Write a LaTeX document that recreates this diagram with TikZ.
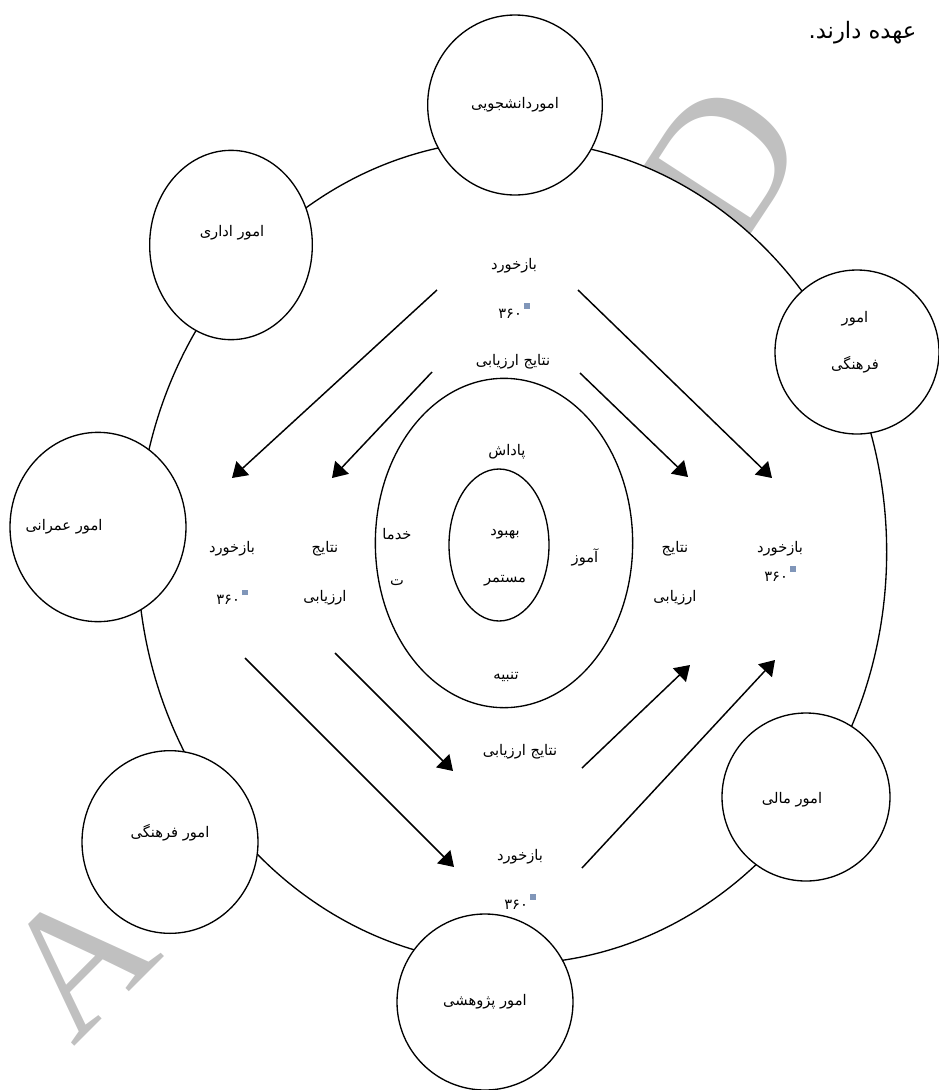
\documentclass[tikz,border=0pt]{standalone}
\usepackage{fontspec}
\setmainfont{DejaVu Sans}
\newfontfamily\farsi[Script=Arabic]{DejaVu Sans}
\newfontfamily\wmfont{Liberation Serif}
\TeXXeTstate=1
\usetikzlibrary{shapes, arrows.meta, positioning}
\definecolor{wmgray}{RGB}{192,192,192}
\definecolor{iconc}{RGB}{128,150,185}
\newcommand{\fatxt}[1]{\beginR #1\endR}
\newcommand{\iconsq}{\,\textcolor{iconc}{\rule[7pt]{4pt}{4pt}}}

\begin{document}
\begin{tikzpicture}[x=0.75pt, y=-0.75pt, font=\farsi\fontsize{11}{13}\selectfont]
    \tikzstyle{unit} = [ellipse, draw, fill=white, line width=1pt, inner sep=0pt]
    \tikzstyle{ring} = [ellipse, draw, line width=1pt, inner sep=0pt]
    \tikzstyle{lbl} = [align=center, inner sep=1pt]
    \tikzstyle{wm} = [text=wmgray, font=\wmfont\fontsize{135}{135}\selectfont, inner sep=0pt]
    \tikzstyle{arrow} = [line width=1.1pt, -{Triangle[length=11pt,width=14pt]}]

    \useasboundingbox (0,0) rectangle (939,1090);

    % watermark
    \node (wmA) [wm, rotate=45] at (77,960) {A};
    \node (wmD) [wm, rotate=57, font=\wmfont\fontsize{145}{145}\selectfont] at (722,164) {D};

    \node (note) [anchor=east, font=\farsi\fontsize{17}{19}\selectfont] at (921,33) {\fatxt{عهده دارند.}};

    % rings
    \node (outer) [ring, fill=white, minimum width=562pt, minimum height=618pt] at (512,552) {};
    \node (mid) [ring, minimum width=193pt, minimum height=247pt] at (504,543) {};
    \node (core) [ring, minimum width=75pt, minimum height=114pt] at (499,545) {};

    % inner texts
    \node (reward) [lbl] at (507,452) {\fatxt{پاداش}};
    \node (service) [lbl] at (397,557) {\fatxt{خدما}\\[22pt]\fatxt{ت}};
    \node (improve) [lbl] at (505,558) {\fatxt{بهبود}\\[22pt]\fatxt{مستمر}};
    \node (edu) [lbl] at (585,557) {\fatxt{آموز}};
    \node (punish) [lbl] at (506,677) {\fatxt{تنبیه}};

    % feedback and results
    \node (fbTop) [lbl] at (514,288) {\fatxt{بازخورد}\\[22pt]۳۶۰\iconsq};
    \node (resTop) [lbl] at (513,362) {\fatxt{نتایج ارزیابی}};
    \node (fbLeft) [lbl] at (232,573) {\fatxt{بازخورد}\\[24pt]۳۶۰\iconsq};
    \node (resLeft) [lbl] at (325,573) {\fatxt{نتایج}\\[24pt]\fatxt{ارزیابی}};
    \node (resRight) [lbl] at (675,573) {\fatxt{نتایج}\\[24pt]\fatxt{ارزیابی}};
    \node (fbRight) [lbl] at (780,561) {\fatxt{بازخورد}\\[7pt]۳۶۰\iconsq};
    \node (resBot) [lbl] at (520,752) {\fatxt{نتایج ارزیابی}};
    \node (fbBot) [lbl] at (520,879) {\fatxt{بازخورد}\\[22pt]۳۶۰\iconsq};

    % units
    \node (student) [unit, minimum width=131pt, minimum height=135pt] at (515,105) {\fatxt{اموردانشجویی}};
    \node (admin) [unit, minimum width=122pt, minimum height=142pt] at (231,245) {};
    \node (adminTxt) [lbl] at (232,233) {\fatxt{امور اداری}};
    \node (cultureR) [unit, minimum width=123pt, minimum height=123pt] at (857,352) {};
    \node (cultureRTxt) [lbl] at (855,342) {\fatxt{امور}\\[22pt]\fatxt{فرهنگی}};
    \node (civil) [unit, minimum width=132pt, minimum height=142pt] at (98,527) {};
    \node (civilTxt) [lbl] at (64,527) {\fatxt{امور عمرانی}};
    \node (cultureL) [unit, minimum width=132pt, minimum height=137pt] at (170,842) {};
    \node (cultureLTxt) [lbl] at (170,833) {\fatxt{امور فرهنگی}};
    \node (research) [unit, minimum width=132pt, minimum height=132pt] at (485,1002) {\fatxt{امور پژوهشی}};
    \node (finance) [unit, minimum width=126pt, minimum height=126pt] at (806,797) {};
    \node (financeTxt) [lbl] at (792,800) {\fatxt{امور مالی}};

    % Arrows
    \coordinate (topOutL) at (437,290);  \coordinate (leftOutT) at (232,478);
    \coordinate (topInL) at (432,372);   \coordinate (leftInT) at (332,478);
    \coordinate (topOutR) at (578,290);  \coordinate (rightOutT) at (772,478);
    \coordinate (topInR) at (580,373);   \coordinate (rightInT) at (688,477);
    \coordinate (leftOutB) at (245,658); \coordinate (botOutL) at (454,867);
    \coordinate (leftInB) at (335,653);  \coordinate (botInL) at (453,771);
    \coordinate (botInR) at (582,768);   \coordinate (rightInB) at (690,665);
    \coordinate (botOutR) at (582,868);  \coordinate (rightOutB) at (775,660);
    \draw [arrow] (topOutL) -- (leftOutT);
    \draw [arrow] (topInL) -- (leftInT);
    \draw [arrow] (topOutR) -- (rightOutT);
    \draw [arrow] (topInR) -- (rightInT);
    \draw [arrow] (leftOutB) -- (botOutL);
    \draw [arrow] (leftInB) -- (botInL);
    \draw [arrow] (botInR) -- (rightInB);
    \draw [arrow] (botOutR) -- (rightOutB);
\end{tikzpicture}
\end{document}
